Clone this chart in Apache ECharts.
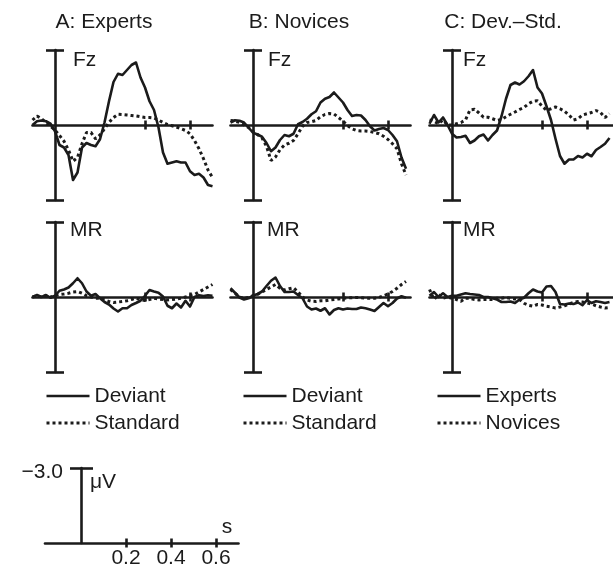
<!DOCTYPE html>
<html>
<head>
<meta charset="utf-8">
<script src="https://cdn.jsdelivr.net/npm/echarts@6/dist/echarts.min.js"></script>
<style>
html,body{margin:0;padding:0;background:#fff;}
#chart{width:613px;height:565px;}
</style>
</head>
<body>
<div id="chart"></div>
<script>
// ---------------- data ----------------
const TIME = [-0.10,-0.08,-0.06,-0.04,-0.02,0.00,0.02,0.04,0.06,0.08,0.10,0.12,0.14,0.16,0.18,0.20,0.22,0.24,0.26,0.28,0.30,0.32,0.34,0.36,0.38,0.40,0.42,0.44,0.46,0.48,0.50,0.52,0.54,0.56,0.58,0.60,0.62,0.64,0.66,0.68,0.70];

// Fz (µV, negative plotted upward)
const fzA_dev = [0,-0.15,-0.18,-0.15,-0.05,0.25,0.8,0.9,1.2,2.2,1.9,0.9,0.72,0.8,0.85,0.57,-0.1,-0.95,-1.72,-2.05,-2.0,-2.2,-2.4,-2.5,-1.9,-1.5,-0.95,-0.6,0.1,1.1,1.55,1.5,1.45,1.5,1.5,1.85,2.0,1.95,2.1,2.4,2.45];
const fzA_std = [-0.2,-0.36,-0.25,-0.1,0.05,0.2,0.42,0.65,1.0,1.45,1.3,0.75,0.3,0.3,0.55,0.4,0.15,-0.1,-0.3,-0.43,-0.42,-0.4,-0.38,-0.36,-0.33,-0.3,-0.3,-0.28,-0.2,-0.1,-0.02,0.03,0.08,0.15,0.22,0.35,0.62,0.95,1.35,1.8,2.1];
const fzB_dev = [-0.1,-0.19,-0.17,-0.1,0.1,0.31,0.38,0.47,0.72,1.05,0.9,0.6,0.4,0.45,0.35,-0.03,-0.12,-0.25,-0.43,-0.55,-0.9,-1.05,-1.12,-1.3,-1.1,-0.9,-0.6,-0.36,-0.4,-0.38,-0.2,0.05,0.22,0.16,0.12,0.2,0.4,0.65,1.3,1.75,null];
const fzB_std = [-0.18,-0.16,-0.1,0.0,0.1,0.25,0.38,0.52,0.85,1.42,1.28,0.99,0.8,0.73,0.62,0.35,0.05,-0.1,-0.13,-0.18,-0.33,-0.42,-0.46,-0.44,-0.3,-0.15,0.02,0.15,0.22,0.24,0.24,0.26,0.3,0.35,0.45,0.58,0.75,0.95,1.55,2.0,null];
const fzC_exp = [-0.05,-0.4,-0.1,-0.3,0.0,0.35,0.5,0.48,0.43,0.72,0.62,0.45,0.38,0.62,0.4,0.22,-0.35,-1.05,-1.6,-1.7,-1.62,-1.75,-1.95,-2.2,-1.5,-1.26,-0.75,-0.2,0.55,1.24,1.55,1.38,1.38,1.24,1.3,1.15,1.25,1.0,0.88,0.75,0.52];
const fzC_nov = [-0.2,-0.15,-0.05,-0.2,0.0,0.0,-0.05,-0.1,-0.2,-0.6,-0.63,-0.48,-0.31,-0.31,-0.25,-0.18,-0.22,-0.33,-0.43,-0.52,-0.62,-0.7,-0.85,-0.95,-0.97,-0.75,-0.59,-0.65,-0.72,-0.65,-0.55,-0.4,-0.2,-0.25,-0.4,-0.45,-0.5,-0.58,-0.5,-0.3,-0.45];

// MR
const mrA_dev = [0.0,-0.08,0.0,-0.08,0.03,-0.05,-0.25,-0.3,-0.38,-0.55,-0.75,-0.55,-0.22,-0.05,-0.12,0.05,0.2,0.3,0.46,0.58,0.45,0.45,0.32,0.24,0.15,-0.05,-0.28,-0.22,-0.17,-0.02,0.35,0.45,0.26,0.42,0.15,0.38,0.0,-0.07,-0.04,-0.07,-0.05];
const mrA_std = [0.0,-0.05,0.0,-0.05,0.0,-0.05,-0.1,-0.12,-0.15,-0.2,-0.22,-0.15,-0.05,0.0,0.05,0.05,0.12,0.18,0.22,0.2,0.18,0.15,0.1,0.05,0.1,0.14,0.1,0.05,0.08,0.1,0.12,0.1,0.08,0.05,0.0,-0.05,-0.1,-0.2,-0.3,-0.4,-0.5];
const mrB_dev = [-0.35,-0.17,0.02,0.1,0.05,-0.05,-0.12,-0.22,-0.44,-0.65,-0.78,-0.44,-0.2,-0.2,-0.22,-0.08,0.05,0.38,0.5,0.46,0.55,0.45,0.7,0.52,0.45,0.5,0.46,0.48,0.48,0.42,0.45,0.5,0.56,0.4,0.24,0.37,0.24,0.06,-0.03,0.03,null];
const mrB_std = [-0.3,-0.15,0.0,0.05,0.02,-0.05,-0.1,-0.2,-0.3,-0.4,-0.5,-0.35,-0.28,-0.33,-0.37,-0.2,0.0,0.12,0.17,0.18,0.15,0.15,0.12,0.1,0.08,0.05,0.03,0.03,0.02,0.03,0.05,0.05,0.05,0.02,-0.05,-0.12,-0.22,-0.35,-0.5,-0.62,null];
const mrC_exp = [-0.05,-0.2,0.0,-0.15,0.0,-0.05,-0.05,-0.1,-0.15,-0.12,-0.1,-0.08,0.0,0.0,0.05,0.1,0.2,0.2,0.18,0.24,0.1,0.03,-0.15,-0.3,-0.22,-0.18,-0.42,-0.44,-0.2,0.28,0.3,0.26,0.28,0.22,0.33,0.12,0.24,0.17,0.2,0.24,0.2];
const mrC_nov = [-0.3,0.1,-0.1,0.05,0.0,0.05,0.1,0.17,0.05,0.05,0.1,0.12,0.1,0.1,0.1,0.05,0.05,0.02,0.05,0.08,0.1,0.25,0.33,0.37,0.3,0.32,0.37,0.4,0.44,0.4,0.35,0.28,0.22,0.18,0.2,0.24,0.28,0.35,0.4,0.44,0.42];

const PANEL_TITLES = ['A: Experts', 'B: Novices', 'C: Dev.\u2013Std.'];
const ROW_LABELS = ['Fz', 'MR'];
const LEGEND_NAMES = [['Deviant', 'Standard'], ['Deviant', 'Standard'], ['Experts', 'Novices']];
const PANEL_TICKS = [0.4, 0.6];
const SCALE_TICKS = [0.2, 0.4, 0.6];
const SCALE_UV = -3;

// ---------------- layout ----------------
const INK = '#1b1b1b';
const FONT = '"Liberation Sans", Arial, Helvetica, sans-serif';
const FS = 21;
const PX_PER_S = 225;
const AXIS_X = [55, 253, 452];
const ROW_TOP = [50, 222];
const PANEL_H = 150;
const X_MIN = -0.1;
const X_MAX = [0.7, 0.7, 0.715];
const LW = 2.6;
const DOT_W = 3;
const DOT = [3, 3];

const PANEL_DATA = [
  [[fzA_dev, fzA_std], [mrA_dev, mrA_std]],
  [[fzB_dev, fzB_std], [mrB_dev, mrB_std]],
  [[fzC_exp, fzC_nov], [mrC_exp, mrC_nov]]
];

function pairs(vals) {
  const out = [];
  for (let i = 0; i < TIME.length; i++) if (vals[i] !== null) out.push([TIME[i], vals[i]]);
  return out;
}
function seg(x1, y1, x2, y2) { return [{coord: [x1, y1]}, {coord: [x2, y2]}]; }
function txt(x, y, s, align) {
  return {type: 'text', x, y, style: {text: s, fill: INK, font: FS + 'px ' + FONT,
    textAlign: align, textVerticalAlign: 'middle', align, verticalAlign: 'middle'}};
}

const grid = [], xAxis = [], yAxis = [], series = [], graphic = [], legend = [];
const capHalf = 9 / PX_PER_S;
const tickHalf = 4.5 / (PANEL_H / 6);

function baseAxis(gi) {
  return {
    gridIndex: gi, type: 'value',
    axisLine: {show: true, onZero: true, lineStyle: {color: INK, width: LW}},
    axisTick: {show: false}, axisLabel: {show: false}, splitLine: {show: false}
  };
}

let gi = 0;
for (let c = 0; c < 3; c++) {
  for (let r = 0; r < 2; r++) {
    grid.push({
      left: AXIS_X[c] + X_MIN * PX_PER_S,
      top: ROW_TOP[r],
      width: (X_MAX[c] - X_MIN) * PX_PER_S,
      height: PANEL_H,
      containLabel: false,
      outerBoundsMode: 'none'
    });
    xAxis.push(Object.assign(baseAxis(gi), {min: X_MIN, max: X_MAX[c]}));
    yAxis.push(Object.assign(baseAxis(gi), {min: -3, max: 3, inverse: true}));
    const [a, b] = PANEL_DATA[c][r];
    const names = LEGEND_NAMES[c];
    series.push({
      name: names[0], type: 'line', xAxisIndex: gi, yAxisIndex: gi,
      data: pairs(a), symbol: 'none', clip: false, z: 3,
      lineStyle: {color: INK, width: LW, join: 'round'}, itemStyle: {color: INK}
    });
    series.push({
      name: names[1], type: 'line', xAxisIndex: gi, yAxisIndex: gi,
      data: pairs(b), symbol: 'none', clip: false, z: 2,
      lineStyle: {color: INK, width: DOT_W, type: DOT, cap: 'butt'}, itemStyle: {color: INK}
    });
    const marks = [seg(-capHalf, -3, capHalf, -3), seg(-capHalf, 3, capHalf, 3)];
    PANEL_TICKS.forEach(t => marks.push(seg(t, -tickHalf, t, tickHalf)));
    series.push({
      name: 'frame' + gi, type: 'line', xAxisIndex: gi, yAxisIndex: gi, data: [], clip: false,
      markLine: {silent: true, symbol: ['none', 'none'], label: {show: false}, animation: false,
        lineStyle: {color: INK, width: LW, type: 'solid'}, data: marks}
    });
    graphic.push(txt(AXIS_X[c] + (r === 0 ? [18, 15, 11][c] : [15, 14, 11][c]), ROW_TOP[r] + (r === 0 ? 10 : 8), ROW_LABELS[r], 'left'));
    gi++;
  }
  graphic.push(txt([104, 299, 503][c], 22, PANEL_TITLES[c], 'center'));
  legend.push({
    orient: 'vertical', left: [45, 242, 436][c], top: 385, padding: 0,
    itemWidth: 43, itemHeight: 14, itemGap: 5, selectedMode: false,
    textStyle: {fontSize: FS, fontFamily: FONT, color: INK, lineHeight: 22},
    data: [
      {name: LEGEND_NAMES[c][0], itemStyle: {opacity: 0}, lineStyle: {color: INK, width: LW, type: 'solid'}},
      {name: LEGEND_NAMES[c][1], itemStyle: {opacity: 0}, lineStyle: {color: INK, width: DOT_W, type: DOT}}
    ]
  });
}

// scale bar
const SB_AXIS_X = 81, SB_TOP = 468, SB_MIN = -0.16, SB_MAX = 0.7;
const SB_PX_PER_UV = 25;
const SB_TICK = 4.5;
grid.push({left: SB_AXIS_X + SB_MIN * PX_PER_S, top: SB_TOP, width: (SB_MAX - SB_MIN) * PX_PER_S,
  height: -SCALE_UV * SB_PX_PER_UV, containLabel: false, outerBoundsMode: 'none'});
xAxis.push(Object.assign(baseAxis(gi), {
  min: SB_MIN, max: SB_MAX,
  axisTick: {show: true, customValues: SCALE_TICKS, length: SB_TICK, inside: false, lineStyle: {color: INK, width: LW}},
  axisLabel: {show: true, customValues: SCALE_TICKS, formatter: v => v.toFixed(1), fontSize: FS, fontFamily: FONT, color: INK, margin: 5}
}));
yAxis.push(Object.assign(baseAxis(gi), {min: SCALE_UV, max: 0, inverse: true}));
const sbMarks = [seg(-11 / PX_PER_S, SCALE_UV, 12 / PX_PER_S, SCALE_UV)];
SCALE_TICKS.forEach(t => sbMarks.push(seg(t, -SB_TICK / SB_PX_PER_UV, t, 0)));
series.push({
  name: 'scale', type: 'line', xAxisIndex: gi, yAxisIndex: gi, data: [], clip: false,
  markLine: {silent: true, symbol: ['none', 'none'], label: {show: false}, animation: false,
    lineStyle: {color: INK, width: LW, type: 'solid'}, data: sbMarks}
});
graphic.push(txt(63, 472, '\u2212' + Math.abs(SCALE_UV).toFixed(1), 'right'));
graphic.push(txt(90, 482, '\u03bcV', 'left'));
graphic.push(txt(227, 527, 's', 'center'));

const chart = echarts.init(document.getElementById('chart'), null, {renderer: 'canvas'});
chart.setOption({
  backgroundColor: '#fff',
  animation: false,
  grid, xAxis, yAxis, series, legend, graphic
});
</script>
</body>
</html>
